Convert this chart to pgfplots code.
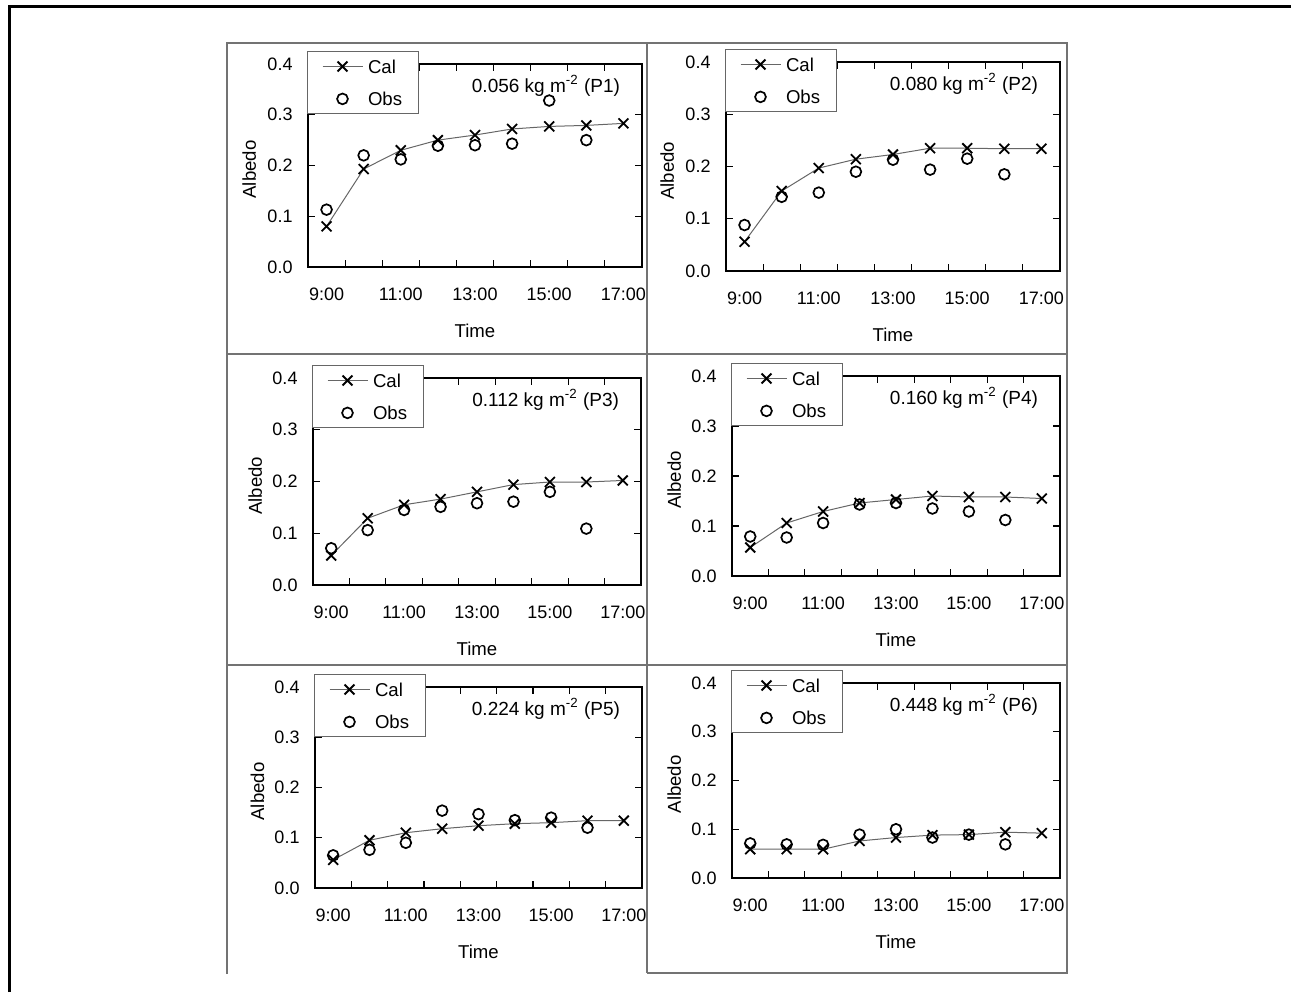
\documentclass[border=0pt]{standalone}
\usepackage{fontspec}
\setmainfont{Liberation Sans}
\usepackage{pgfplots}
\pgfplotsset{compat=1.18}
\pgfplotsset{
  albedo/.style={
    scale only axis, anchor=south west,
    xmin=8.5, xmax=17.5, ymin=0, ymax=0.4,
    /pgf/number format/assume math mode=true,
    xtick={9,11,13,15,17},
    xticklabels={9:00,11:00,13:00,15:00,17:00},
    major x tick style={draw=none},
    minor xtick={9.5,10.5,11.5,12.5,13.5,14.5,15.5,16.5},
    ytick={0,0.1,0.2,0.3,0.4},
    tick align=inside,
    major tick length=3.5pt, minor tick length=3.5pt,
    tick style={black, line width=0.6pt},
    axis line style={black, line width=1pt},
    tick label style={font=\fontsize{9}{10}\selectfont},
    xticklabel style={anchor=center, yshift=-13.5pt},
    yticklabel style={anchor=center, xshift=-14pt,
      /pgf/number format/fixed, /pgf/number format/fixed zerofill,
      /pgf/number format/precision=1},
    xlabel={Time}, ylabel={Albedo},
    every axis x label/.style={at={(axis description cs:0.5,0)}, anchor=center, yshift=-32pt,
      font=\fontsize{9.3}{10}\selectfont},
    every axis y label/.style={at={(axis description cs:-0.176,0.48)}, anchor=center, rotate=90,
      font=\fontsize{9.3}{10}\selectfont},
    legend cell align=left,
    legend image code/.code={%
      \path[draw=none,fill=none] (-2pt,-3pt) rectangle (20pt,3pt);
      \draw[mark repeat=2,mark phase=2,##1] plot coordinates {(0pt,0pt) (10pt,0pt) (20pt,0pt)};},
    legend style={at={(0,1)}, anchor=north west, xshift=-0.5pt, yshift=6.5pt,
      draw=black!60, line width=0.5pt, fill=white,
      inner xsep=5.5pt, inner ysep=2.65pt, row sep=6.5pt,
      font=\fontsize{9.3}{10}\selectfont,
      nodes={inner xsep=2.5pt, inner ysep=1.5pt, text height=6.7pt, text depth=0pt}},
  },
  calstyle/.style={color=black!60, line width=0.5pt, mark=x, mark size=3.5pt,
    mark options={black, line width=0.9pt, solid}},
  obsstyle/.style={only marks, mark=o, mark size=2.7pt,
    mark options={black, line width=0.85pt}},
}
\newcommand{\ann}[1]{\node[anchor=base east, xshift=-7.5pt, yshift=-14.2pt,
  font=\fontsize{9.5}{10}\selectfont] at (rel axis cs:1,1) {#1};}
\begin{document}
\begin{tikzpicture}
\useasboundingbox (0,0) rectangle (645.5pt,496pt);
\begin{scope}[x=0.5pt,y=0.5pt]
  \draw[line width=1.5pt] (9,0) -- (9,985) -- (1291,985);
  \draw[black!55, line width=0.6pt] (227,18) -- (227,949) -- (1067,949) -- (1067,19) -- (647,19);
  \draw[black!55, line width=0.6pt] (647,949) -- (647,19);
  \draw[black!55, line width=0.6pt] (227,638) -- (1067,638);
  \draw[black!55, line width=0.6pt] (227,327) -- (1067,327);
\end{scope}

% P1
\begin{axis}[albedo, at={(154pt,362.5pt)}, width=167pt, height=101.5pt]
\addplot[calstyle] coordinates {(9,0.080) (10,0.193) (11,0.230) (12,0.250) (13,0.260) (14,0.272) (15,0.277) (16,0.279) (17,0.283)};
\addplot[obsstyle] coordinates {(9,0.113) (10,0.220) (11,0.212) (12,0.239) (13,0.240) (14,0.243) (15,0.328) (16,0.250)};
\legend{Cal,Obs}
\ann{0.056 kg m\textsuperscript{-2} (P1)}
\end{axis}

% P2
\begin{axis}[albedo, at={(363pt,360.5pt)}, width=167pt, height=104.5pt]
\addplot[calstyle] coordinates {(9,0.056) (10,0.153) (11,0.197) (12,0.214) (13,0.223) (14,0.235) (15,0.235) (16,0.234) (17,0.234)};
\addplot[obsstyle] coordinates {(9,0.088) (10,0.142) (11,0.150) (12,0.190) (13,0.213) (14,0.194) (15,0.215) (16,0.185)};
\legend{Cal,Obs}
\ann{0.080 kg m\textsuperscript{-2} (P2)}
\end{axis}

% P3
\begin{axis}[albedo, at={(156.5pt,203.5pt)}, width=164pt, height=103.5pt]
\addplot[calstyle] coordinates {(9,0.057) (10,0.129) (11,0.155) (12,0.166) (13,0.180) (14,0.194) (15,0.199) (16,0.199) (17,0.202)};
\addplot[obsstyle] coordinates {(9,0.071) (10,0.106) (11,0.145) (12,0.151) (13,0.158) (14,0.161) (15,0.180) (16,0.109)};
\legend{Cal,Obs}
\ann{0.112 kg m\textsuperscript{-2} (P3)}
\end{axis}

% P4
\begin{axis}[albedo, at={(366pt,208pt)}, width=164pt, height=100pt]
\addplot[calstyle] coordinates {(9,0.057) (10,0.106) (11,0.129) (12,0.146) (13,0.153) (14,0.160) (15,0.158) (16,0.158) (17,0.155)};
\addplot[obsstyle] coordinates {(9,0.079) (10,0.077) (11,0.106) (12,0.143) (13,0.146) (14,0.135) (15,0.129) (16,0.112)};
\legend{Cal,Obs}
\ann{0.160 kg m\textsuperscript{-2} (P4)}
\end{axis}

% P5
\begin{axis}[albedo, at={(157.5pt,52pt)}, width=163.5pt, height=100.5pt]
\addplot[calstyle] coordinates {(9,0.056) (10,0.095) (11,0.110) (12,0.118) (13,0.124) (14,0.128) (15,0.130) (16,0.134) (17,0.134)};
\addplot[obsstyle] coordinates {(9,0.065) (10,0.076) (11,0.090) (12,0.154) (13,0.147) (14,0.135) (15,0.140) (16,0.120)};
\legend{Cal,Obs}
\ann{0.224 kg m\textsuperscript{-2} (P5)}
\end{axis}

% P6
\begin{axis}[albedo, at={(366pt,57pt)}, width=164pt, height=97.5pt]
\addplot[calstyle] coordinates {(9,0.059) (10,0.059) (11,0.059) (12,0.076) (13,0.083) (14,0.088) (15,0.089) (16,0.094) (17,0.092)};
\addplot[obsstyle] coordinates {(9,0.071) (10,0.069) (11,0.068) (12,0.089) (13,0.100) (14,0.083) (15,0.089) (16,0.069)};
\legend{Cal,Obs}
\ann{0.448 kg m\textsuperscript{-2} (P6)}
\end{axis}
\end{tikzpicture}
\end{document}
